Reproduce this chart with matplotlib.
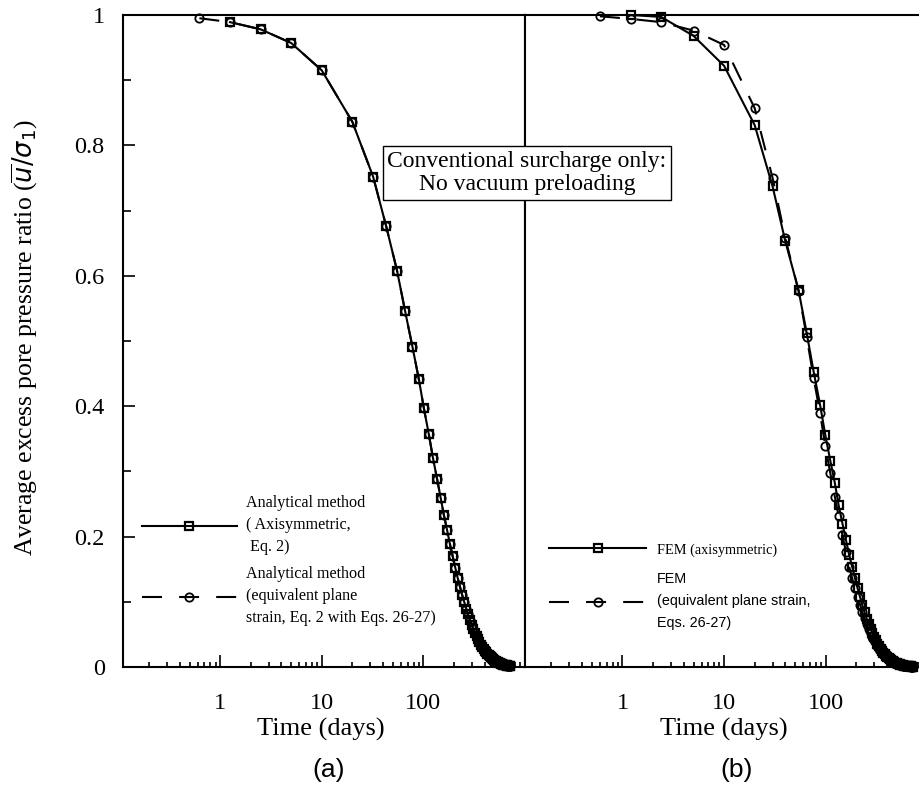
import matplotlib
matplotlib.use('Agg')
import matplotlib.pyplot as plt
import matplotlib.ticker as ticker

plt.rcParams['font.family'] = ['Liberation Serif', 'DejaVu Serif']
plt.rcParams['mathtext.fontset'] = 'dejavusans'

# (a) analytical method, time in days
ana_t = [1.25, 2.5, 5, 10,
         20, 32, 43, 55, 66, 78, 90, 101, 113, 124,
         136, 148, 159, 171, 182, 194, 206, 217, 229, 240,
         252, 264, 275, 287, 298, 310, 322, 333, 345, 356,
         368, 380, 391, 403, 414, 426, 438, 449, 461, 472,
         484, 496, 507, 519, 530, 542, 554, 565, 577, 588,
         600, 612, 623, 635, 646, 658, 670, 681, 693, 704, 716]
ana_axi_u = [0.989, 0.978, 0.957, 0.915,
             0.836, 0.752, 0.676, 0.608, 0.546, 0.491, 0.442, 0.397, 0.357, 0.321,
             0.289, 0.259, 0.233, 0.210, 0.189, 0.170, 0.152, 0.137, 0.123, 0.111,
             0.0997, 0.0896, 0.0805, 0.0724, 0.0651, 0.0585, 0.0527, 0.0473, 0.0426, 0.0383,
             0.0344, 0.0309, 0.0278, 0.0250, 0.0225, 0.0202, 0.0182, 0.0163, 0.0147, 0.0132,
             0.0119, 0.0107, 0.0096, 0.0086, 0.0078, 0.0070, 0.0063, 0.0056, 0.0051, 0.0046,
             0.0041, 0.0037, 0.0033, 0.0030, 0.0027, 0.0024, 0.0022, 0.0020, 0.0018, 0.0016, 0.0014]
# plane strain curve sits on top of the axisymmetric one, plus one early point
ana_ps_t = [0.625] + ana_t
ana_ps_u = [0.995] + ana_axi_u

# (b) FEM
fem_axi_t = [1.2, 2.4, 5, 10, 20, 30, 40,
             54, 65, 76, 88, 99, 111, 123, 134, 146, 158, 170, 182, 194,
             206, 218, 229, 241, 253, 264, 276, 288, 299, 311,
             323, 334, 346, 358, 369, 381, 393, 404, 416, 428,
             439, 451, 463, 474, 486, 498, 509, 521, 533, 544,
             556, 568, 579, 591, 603, 614, 626, 638, 649, 661,
             673, 684, 696, 708, 719]
fem_axi_u = [1.0, 0.997, 0.968, 0.922, 0.831, 0.737, 0.653,
             0.578, 0.512, 0.453, 0.402, 0.356, 0.316, 0.282, 0.248, 0.220, 0.195, 0.172, 0.154, 0.136,
             0.1205, 0.1068, 0.0946, 0.0838, 0.0743, 0.0658, 0.0583, 0.0517, 0.0458, 0.0406,
             0.0359, 0.0318, 0.0282, 0.0250, 0.0221, 0.0196, 0.0174, 0.0154, 0.0136, 0.0121,
             0.0107, 0.0095, 0.0084, 0.0074, 0.0066, 0.0058, 0.0052, 0.0046, 0.0041, 0.0036,
             0.0032, 0.0028, 0.0025, 0.0022, 0.0020, 0.0017, 0.0015, 0.0014, 0.0012, 0.0011,
             0.0009, 0.0008, 0.0007, 0.0007, 0.0006]
fem_ps_t = [0.6] + fem_axi_t
fem_ps_u = [0.998, 0.994, 0.989, 0.976, 0.954, 0.857, 0.750, 0.658,
            0.577, 0.506, 0.443, 0.389, 0.339, 0.297, 0.261, 0.231, 0.202, 0.177, 0.154, 0.136, 0.121,
            0.107, 0.095, 0.084, 0.0745, 0.066, 0.0585, 0.0518, 0.0459, 0.0407, 0.036,
            0.0319, 0.0283, 0.0251, 0.0222, 0.0197, 0.0174, 0.0155, 0.0137, 0.0121, 0.0108,
            0.0095, 0.0084, 0.0075, 0.0066, 0.0059, 0.0052, 0.0046, 0.0041, 0.0036, 0.0032,
            0.0028, 0.0025, 0.0022, 0.0020, 0.0017, 0.0015, 0.0014, 0.0012, 0.0011, 0.0009,
            0.0008, 0.0007, 0.0007, 0.0006, 0.0005]

xticks = [1, 10, 100]
xtick_labels = ['1', '10', '100']
yticks = [0, 0.2, 0.4, 0.6, 0.8, 1.0]
ytick_labels = ['0', '0.2', '0.4', '0.6', '0.8', '1']

labels_a = ['Analytical method\n( Axisymmetric,\n Eq. 2)',
            'Analytical method\n(equivalent plane\nstrain, Eq. 2 with Eqs. 26-27)']
labels_b = ['FEM (axisymmetric)',
            'FEM\n(equivalent plane strain,\nEqs. 26-27)']

sans = ['Liberation Sans', 'DejaVu Sans']
dash = (9.6, 8.2)

fig = plt.figure(figsize=(9.2, 7.96), dpi=100)
ax1 = fig.add_axes([0.1334, 0.1621, 0.4373, 0.8191])
ax2 = fig.add_axes([0.5707, 0.1621, 0.4373, 0.8191])


def style_axis(ax):
    ax.set_xscale('log')
    ax.set_xlim(0.11, 1000)
    ax.set_ylim(0, 1)
    ax.set_xticks(xticks)
    ax.set_xticklabels(xtick_labels)
    ax.xaxis.set_minor_locator(ticker.LogLocator(base=10, subs=range(2, 10), numticks=20))
    ax.xaxis.set_minor_formatter(ticker.NullFormatter())
    ax.tick_params(axis='x', which='major', direction='in', length=8.6, width=1.2,
                   labelsize=17.5, pad=19, top=False)
    ax.tick_params(axis='x', which='minor', direction='in', length=3.6, width=1.2, top=False)
    for s in ax.spines.values():
        s.set_linewidth(1.5)
    ax.set_xlabel('Time (days)', fontsize=19)


def plot_pair(ax, t1, u1, t2, u2):
    ax.plot(t1, u1, color='k', lw=1.5, marker='s', ms=6, mfc='none', mew=1.6,
            clip_on=False, zorder=3)
    ax.plot(t2, u2, color='k', lw=1.5, dashes=dash, marker='o', ms=6, mfc='none',
            mew=1.3, clip_on=False, zorder=3)


plot_pair(ax1, ana_t, ana_axi_u, ana_ps_t, ana_ps_u)
plot_pair(ax2, fem_axi_t, fem_axi_u, fem_ps_t, fem_ps_u)

style_axis(ax1)
style_axis(ax2)
ax1.xaxis.set_label_coords(0.4925, -0.078)
ax2.xaxis.set_label_coords(0.495, -0.078)

ax1.set_yticks(yticks)
ax1.set_yticklabels(ytick_labels)
ax1.yaxis.set_minor_locator(ticker.FixedLocator([0.1, 0.3, 0.5, 0.7, 0.9]))
ax1.tick_params(axis='y', which='major', direction='in', length=8.6, width=1.2,
                labelsize=17.5, pad=13, right=False)
ax1.tick_params(axis='y', which='minor', direction='in', length=5.8, width=1.2, right=False)
ax1.set_ylabel(r'Average excess pore pressure ratio ($\overline{u}/\sigma_{\mathit{1}}$)', fontsize=18.5)
ax1.yaxis.set_label_coords(-0.205, 0.505)

ax2.tick_params(axis='y', which='both', left=False, right=False, labelleft=False)

leg1 = ax1.legend(ax1.get_lines(), labels_a, loc='upper left', bbox_to_anchor=(0.047, 0.263),
                  frameon=False, fontsize=11.6, handlelength=5.9, handletextpad=0.6,
                  labelspacing=0.68, borderpad=0, borderaxespad=0, numpoints=1)
for txt in leg1.get_texts():
    txt.set_linespacing(1.5)

leg2 = ax2.legend(ax2.get_lines(), labels_b, loc='upper left', bbox_to_anchor=(0.060, 0.190),
                  frameon=False, fontsize=10.3, handlelength=6.8, handletextpad=0.75,
                  labelspacing=1.1, borderpad=0, borderaxespad=0, numpoints=1)
t_b = leg2.get_texts()[1]
t_b.set_fontfamily(sans)
t_b.set_fontsize(10.4)
t_b.set_linespacing(1.7)

fig.text(0.5728, 0.7827, 'Conventional surcharge only:\nNo vacuum preloading',
         ha='center', va='center', fontsize=17, linespacing=1.15,
         bbox=dict(boxstyle='square,pad=0.2', fc='white', ec='k', lw=1.0))

fig.text(0.3576, 0.0327, '(a)', ha='center', va='center', fontsize=19, family=sans)
fig.text(0.801, 0.0327, '(b)', ha='center', va='center', fontsize=19, family=sans)

fig.savefig('out.png', dpi=100)
